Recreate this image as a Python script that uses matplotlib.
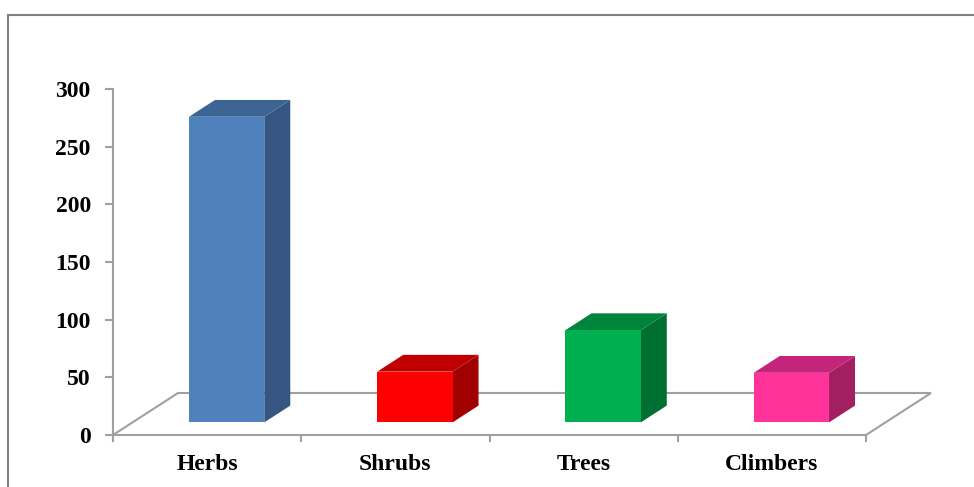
import numpy as np
import matplotlib.pyplot as plt
from matplotlib.patches import Polygon, Rectangle

# data
categories = ["Herbs", "Shrubs", "Trees", "Climbers"]
counts = [265, 44, 80, 43]
front_colors = ["#4F81BD", "#FF0000", "#00B050", "#FF3399"]
top_colors = ["#3C6596", "#C00000", "#00843C", "#C4247A"]
side_colors = ["#345680", "#A00000", "#006F32", "#A21F62"]
yticks = [0, 50, 100, 150, 200, 250, 300]

W, H = 974, 487
fig = plt.figure(figsize=(W / 100, H / 100), dpi=100)

# outer chart frame
fig.add_artist(Rectangle((8 / W, -0.1), 1.2, 1.1 - 15 / H, transform=fig.transFigure,
                         fill=False, edgecolor="#808080", lw=1.5))

left, right, bottom, top = 113, 866, 435, 89
ax = fig.add_axes([left / W, (H - bottom) / H, (right - left) / W, (bottom - top) / H])
ax.set_xlim(0, len(categories))
ax.set_ylim(0, 300)

# oblique depth (full floor depth) in data units
px_x = (right - left) / len(categories)
px_y = (bottom - top) / 300
depth_dx = 65 / px_x
depth_dy = 42 / px_y

grey = "#A0A0A0"
# floor outline
n = len(categories)
floor = [(0, 0), (n, 0), (n + depth_dx, depth_dy), (depth_dx, depth_dy)]
ax.add_patch(Polygon(floor, closed=True, fill=False, edgecolor=grey, lw=1.5,
                     clip_on=False, zorder=1))

bar_w = 0.4
d0, d1 = 0.3, 0.7  # bar depth span
for i, v in enumerate(counts):
    x0 = i + 0.5 - bar_w / 2 + d0 * depth_dx
    x1 = x0 + bar_w
    y0 = d0 * depth_dy
    y1 = y0 + v
    ox = (d1 - d0) * depth_dx
    oy = (d1 - d0) * depth_dy
    front = [(x0, y0), (x1, y0), (x1, y1), (x0, y1)]
    topf = [(x0, y1), (x1, y1), (x1 + ox, y1 + oy), (x0 + ox, y1 + oy)]
    side = [(x1, y0), (x1 + ox, y0 + oy), (x1 + ox, y1 + oy), (x1, y1)]
    ax.add_patch(Polygon(side, closed=True, facecolor=side_colors[i], edgecolor="none",
                         clip_on=False, zorder=3))
    ax.add_patch(Polygon(topf, closed=True, facecolor=top_colors[i], edgecolor="none",
                         clip_on=False, zorder=3))
    ax.add_patch(Polygon(front, closed=True, facecolor=front_colors[i], edgecolor="none",
                         clip_on=False, zorder=4))

for s in ["top", "right", "bottom"]:
    ax.spines[s].set_visible(False)
ax.spines["left"].set_color(grey)
ax.spines["left"].set_linewidth(1.5)
ax.patch.set_visible(False)

font = dict(family="Liberation Serif", weight="bold", size=17)
ax.set_yticks(yticks)
ax.set_yticklabels([str(t) for t in yticks], fontdict=font)
ax.tick_params(axis="y", length=6, width=1.5, color=grey, pad=10)

ax.set_xticks(np.arange(n + 1))
ax.set_xticklabels([])
ax.tick_params(axis="x", which="major", length=4.5, width=1.5, color=grey, bottom=False)
ax.set_xticks(np.arange(n) + 0.5, minor=True)
ax.set_xticklabels(categories, minor=True, fontdict=font)
ax.tick_params(axis="x", which="minor", length=0, pad=14)
# front floor edge ticks
for t in range(n + 1):
    ax.plot([t, t], [0, -6 / px_y], color=grey, lw=1.5, clip_on=False, zorder=1)

fig.savefig("out.png", dpi=100)
